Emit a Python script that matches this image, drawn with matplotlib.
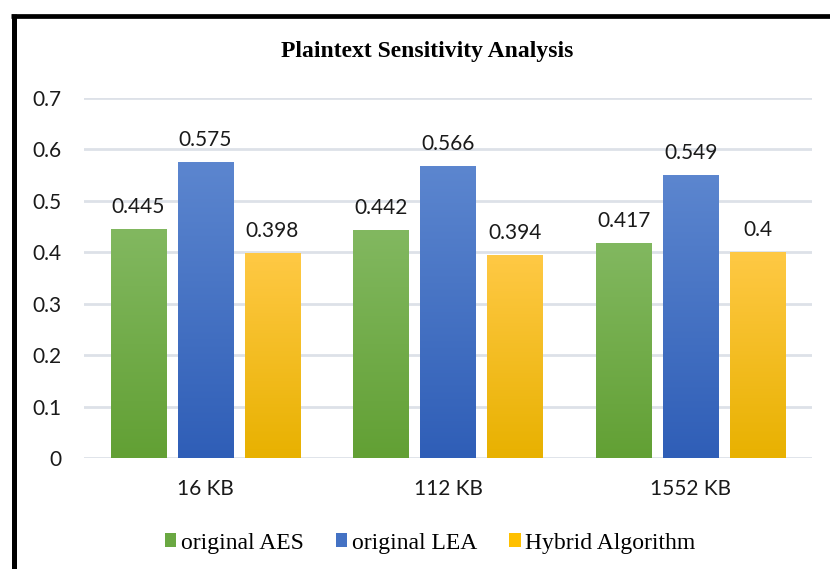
import numpy as np
import matplotlib
matplotlib.use("Agg")
import matplotlib.pyplot as plt
from matplotlib.lines import Line2D
from matplotlib.patches import Patch
from matplotlib.colors import LinearSegmentedColormap

categories = ["16 KB", "112 KB", "1552 KB"]
series_names = ["original AES", "original LEA", "Hybrid Algorithm"]
aes_vals = [0.445, 0.442, 0.417]
lea_vals = [0.575, 0.566, 0.549]
hybrid_vals = [0.398, 0.394, 0.4]
value_labels = [["0.445", "0.442", "0.417"],
                ["0.575", "0.566", "0.549"],
                ["0.398", "0.394", "0.4"]]
yticks = [0, 0.1, 0.2, 0.3, 0.4, 0.5, 0.6, 0.7]
ytick_labels = ["0", "0.1", "0.2", "0.3", "0.4", "0.5", "0.6", "0.7"]

# gradient (top, bottom) and legend colours
grads = [("#82b860", "#62a034"), ("#5c86cf", "#2f5eb7"), ("#ffc945", "#e8b100")]
legend_cols = ["#6aa842", "#4472c4", "#ffc000"]

W, H = 830, 569
fig = plt.figure(figsize=(W / 100, H / 100), dpi=100)
ax = fig.add_axes([84 / W, 1 - 458 / H, (812 - 84) / W, (458 - 98) / H])

x = np.arange(len(categories))
width = 0.227
step = 0.276
series = [aes_vals, lea_vals, hybrid_vals]
lab_font = "Lato"
lab_size = 15

grad = np.linspace(0, 1, 256).reshape(-1, 1)
for i, (vals, (ctop, cbot)) in enumerate(zip(series, grads)):
    cmap = LinearSegmentedColormap.from_list("g%d" % i, [cbot, ctop])
    bars = ax.bar(x + (i - 1) * step, vals, width, color="none", edgecolor="none", zorder=3)
    for b, lab in zip(bars, value_labels[i]):
        x0, y0 = b.get_x(), b.get_y()
        w, h = b.get_width(), b.get_height()
        ax.imshow(grad, cmap=cmap, origin="lower", aspect="auto",
                  extent=[x0, x0 + w, y0, y0 + h], zorder=3)
        ax.annotate(lab, (x0 + w / 2, h), xytext=(0, 9), textcoords="offset points",
                    ha="center", va="bottom", fontsize=lab_size, family=lab_font, color="#1a1a1a")

ax.set_xlim(-0.5, 2.5)
ax.set_ylim(0, 0.7)
ax.set_yticks(yticks)
ax.set_yticklabels(ytick_labels, fontsize=lab_size, family=lab_font, color="#1a1a1a")
ax.set_xticks(x)
ax.set_xticklabels(categories, fontsize=lab_size, family=lab_font, color="#1a1a1a")
ax.tick_params(axis="both", length=0)
ax.tick_params(axis="y", pad=16)
ax.tick_params(axis="x", pad=15)
for s in ax.spines.values():
    s.set_visible(False)
ax.grid(axis="y", color="#dde1e8", lw=2, zorder=0)
ax.set_axisbelow(True)

fig.text(427 / W, 1 - 52 / H, "Plaintext Sensitivity Analysis", ha="center", va="center",
         fontsize=17, fontweight="bold", family="Liberation Serif")

handles = [Patch(facecolor=c, edgecolor="none") for c in legend_cols]
fig.legend(handles, series_names, loc="center", bbox_to_anchor=(430 / W, 1 - 543 / H),
           ncol=3, frameon=False, prop={"family": "Liberation Serif", "size": 17},
           handlelength=0.5, handleheight=0.5, handletextpad=0.18, columnspacing=1.36)

fig.add_artist(Line2D([11 / W, 1], [1 - 16 / H, 1 - 16 / H], color="black", lw=3.4,
                      transform=fig.transFigure, solid_capstyle="butt"))
fig.add_artist(Line2D([13.5 / W, 13.5 / W], [0, 1 - 14 / H], color="black", lw=3.6,
                      transform=fig.transFigure, solid_capstyle="butt"))

fig.savefig("out.png", dpi=100)
